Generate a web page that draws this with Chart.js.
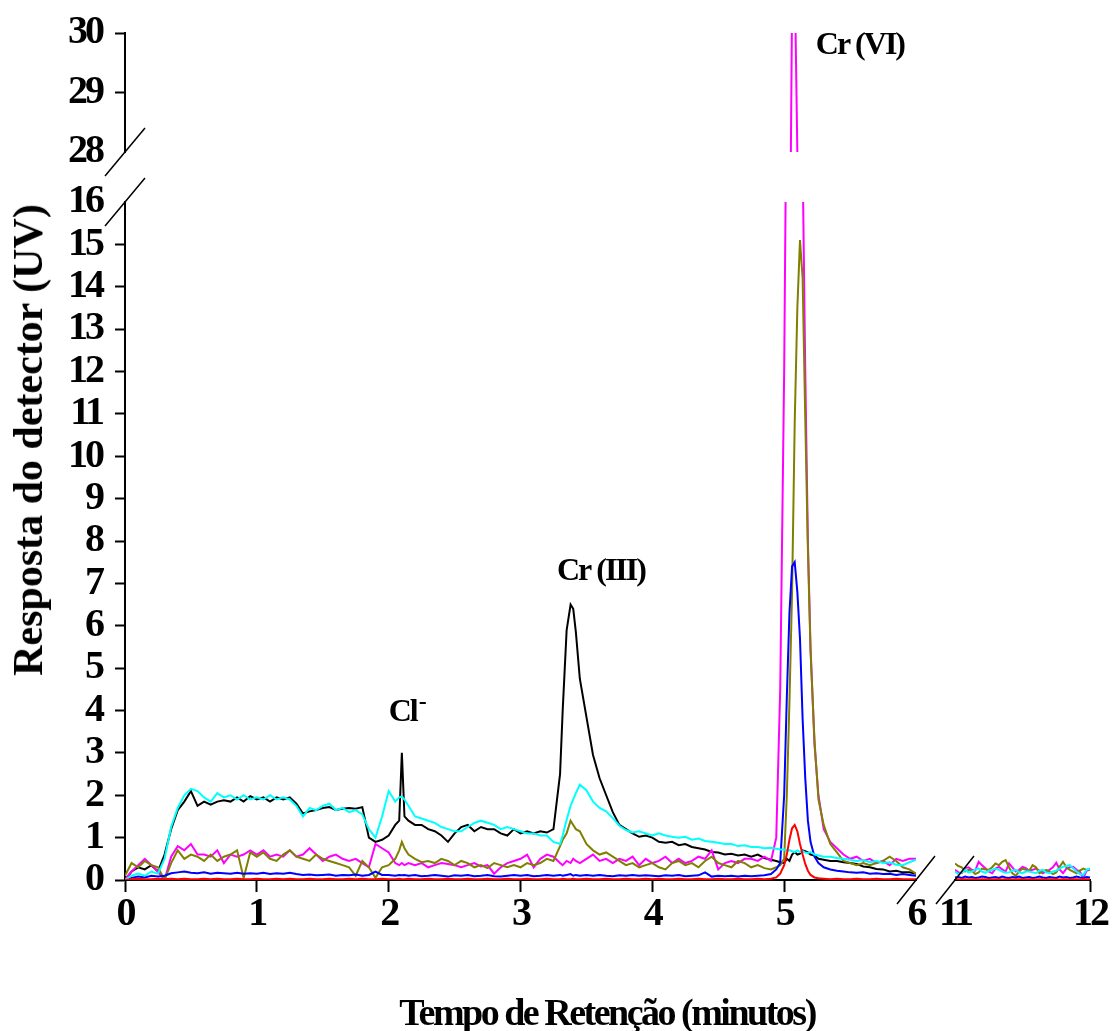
<!DOCTYPE html>
<html lang="pt">
<head>
<meta charset="utf-8">
<title>Cromatograma - Cr(III) e Cr(VI)</title>
<script src="https://cdn.jsdelivr.net/npm/chart.js@4.4.1/dist/chart.umd.min.js"></script>
<style>
  html, body { margin: 0; padding: 0; background: #fff; }
  #wrap { position: relative; width: 1114px; height: 1031px; overflow: hidden; }
  #wrap canvas { position: absolute; left: 0; top: 0; }
  .titulo { position: absolute; font-family: 'Liberation Serif', 'Times New Roman', serif; font-weight: bold; color: #000; white-space: nowrap; }
  #tituloX { left: 607px; top: 1012px; font-size: 38px; letter-spacing: -2.5px; transform: translate(-50%, -50%); }
  #tituloY { left: 28px; top: 440px; font-size: 42px; transform: translate(-50%, -50%) rotate(-90deg); }
</style>
</head>
<body>
<div id="wrap">
  <canvas id="grafBaixo" width="1114" height="1031"></canvas>
  <canvas id="grafCima" width="1114" height="1031"></canvas>
  <canvas id="grafDireita" width="1114" height="1031"></canvas>
  <div class="titulo" id="tituloX">Tempo de Retenção (minutos)</div>
  <div class="titulo" id="tituloY">Resposta do detector (UV)</div>
</div>
<script>
// ===================== DADOS (0 a 6 min) =====================

const tempoEsq = [
  0.00, 0.05, 0.10, 0.15, 0.20, 0.25, 0.30, 0.35, 0.40, 0.45, 0.50, 0.55, 0.60, 0.65, 0.70, 0.75, 0.80, 0.85, 0.90, 0.95,
  1.00, 1.05, 1.10, 1.15, 1.20, 1.25, 1.30, 1.35, 1.40, 1.45, 1.50, 1.55, 1.60, 1.65, 1.70, 1.75, 1.80, 1.85, 1.90, 1.95,
  2.00, 2.05, 2.08, 2.10, 2.12, 2.15, 2.20, 2.25, 2.30, 2.35, 2.40, 2.45, 2.50, 2.55, 2.60, 2.65, 2.70, 2.75, 2.80, 2.85, 2.90, 2.95,
  3.00, 3.05, 3.10, 3.15, 3.20, 3.25, 3.30, 3.32, 3.35, 3.38, 3.40, 3.42, 3.45, 3.50, 3.55, 3.60, 3.65, 3.70, 3.75, 3.80, 3.85, 3.90, 3.95,
  4.00, 4.05, 4.10, 4.15, 4.20, 4.25, 4.30, 4.35, 4.40, 4.45, 4.50, 4.55, 4.60, 4.65, 4.70, 4.75, 4.80, 4.85, 4.90, 4.94, 4.97,
  5.00, 5.02, 5.04, 5.06, 5.08, 5.10, 5.12, 5.14, 5.16, 5.18, 5.20, 5.23, 5.26, 5.30, 5.35, 5.40, 5.45, 5.50, 5.55, 5.60,
  5.65, 5.70, 5.75, 5.80, 5.85, 5.90, 5.95, 6.00
];

const preto = [
  0, 0.2, 0.3, 0.25, 0.35, 0.2, 0.6, 1.2, 1.65, 1.85, 2.1, 1.75, 1.85, 1.78, 1.85, 1.88, 1.85, 1.95, 1.85, 1.98,
  1.9, 1.95, 1.85, 1.95, 1.9, 1.95, 1.8, 1.57, 1.62, 1.65, 1.7, 1.72, 1.65, 1.68, 1.7, 1.68, 1.72, 1.0, 0.9, 0.95,
  1.05, 1.3, 1.4, 3.0, 1.5, 1.4, 1.3, 1.3, 1.2, 1.15, 1.05, 0.9, 1.1, 1.25, 1.3, 1.15, 1.25, 1.2, 1.2, 1.1, 1.05, 1.2,
  1.1, 1.15, 1.1, 1.15, 1.12, 1.2, 2.5, 4.0, 5.9, 6.5, 6.4, 5.85, 4.75, 3.85, 2.95, 2.4, 2.0, 1.6, 1.3, 1.2, 1.1, 1.02, 1.05,
  1.0, 0.9, 0.88, 0.9, 0.82, 0.85, 0.78, 0.75, 0.72, 0.66, 0.65, 0.6, 0.62, 0.58, 0.6, 0.55, 0.6, 0.52, 0.48, 0.45, 0.42,
  0.4, 0.5, 0.45, 0.6, 0.66, 0.6, 0.62, 0.7, 0.68, 0.65, 0.6, 0.58, 0.5, 0.48, 0.45, 0.45, 0.42, 0.4, 0.38, 0.32,
  0.3, 0.26, 0.25, 0.2, 0.22, 0.18, 0.18, 0.15
];

const ciano = [
  0, 0.1, 0.15, 0.1, 0.2, 0.15, 0.5, 1.25, 1.7, 2.0, 2.15, 2.1, 1.95, 1.85, 2.05, 1.95, 2.0, 1.9, 2.0, 1.9,
  1.95, 1.9, 2.0, 1.9, 1.95, 1.9, 1.75, 1.5, 1.7, 1.65, 1.75, 1.8, 1.65, 1.7, 1.6, 1.65, 1.55, 1.2, 1.0, 1.5,
  2.1, 1.85, 1.95, 1.97, 1.9, 1.75, 1.5, 1.45, 1.4, 1.35, 1.25, 1.2, 1.15, 1.15, 1.25, 1.35, 1.4, 1.35, 1.3, 1.2, 1.25, 1.2,
  1.15, 1.1, 1.1, 1.05, 1.05, 0.9, 0.85, 1.05, 1.42, 1.75, 1.9, 2.05, 2.25, 2.12, 1.85, 1.7, 1.62, 1.46, 1.28, 1.18, 1.12, 1.15, 1.1,
  1.05, 1.1, 1.05, 1.02, 1.0, 1.02, 0.95, 0.98, 0.92, 0.9, 0.88, 0.85, 0.85, 0.8, 0.82, 0.78, 0.78, 0.75, 0.76, 0.74, 0.72,
  0.72, 0.7, 0.7, 0.68, 0.66, 0.7, 0.66, 0.68, 0.65, 0.64, 0.66, 0.6, 0.58, 0.55, 0.55, 0.52, 0.5, 0.48, 0.45, 0.47,
  0.42, 0.45, 0.4, 0.42, 0.36, 0.35, 0.42, 0.48
];

const magenta = [
  0, 0.2, 0.35, 0.5, 0.35, 0.2, 0, 0.55, 0.8, 0.7, 0.85, 0.6, 0.6, 0.55, 0.7, 0.4, 0.6, 0.55, 0.6, 0.7,
  0.6, 0.7, 0.55, 0.6, 0.55, 0.7, 0.55, 0.6, 0.75, 0.6, 0.45, 0.55, 0.6, 0.5, 0.45, 0.5, 0.4, 0.3, 0.85, 0.75,
  0.65, 0.4, 0.35, 0.4, 0.35, 0.4, 0.35, 0.4, 0.3, 0.35, 0.4, 0.38, 0.35, 0.3, 0.35, 0.4, 0.32, 0.35, 0.15, 0.3, 0.4, 0.45,
  0.5, 0.6, 0.3, 0.5, 0.6, 0.55, 0.4, 0.35, 0.45, 0.4, 0.5, 0.45, 0.4, 0.5, 0.6, 0.45, 0.5, 0.4, 0.5, 0.45, 0.55, 0.35, 0.5,
  0.4, 0.45, 0.55, 0.4, 0.5, 0.4, 0.45, 0.55, 0.5, 0.7, 0.25, 0.4, 0.45, 0.4, 0.5, 0.5, 0.45, 0.55, 0.45, 1.0, 4.5,
  12, 19.5, 25, 30.5, 31, 28, 22, 17, 12, 8, 5.5, 3.2, 2.0, 1.2, 0.9, 0.75, 0.6, 0.5, 0.55, 0.45,
  0.5, 0.4, 0.45, 0.35, 0.5, 0.45, 0.5, 0.5
];

const oliva = [
  0.1, 0.4, 0.3, 0.45, 0.35, 0.3, 0, 0.4, 0.7, 0.5, 0.6, 0.55, 0.45, 0.6, 0.45, 0.55, 0.6, 0.7, 0.05, 0.65,
  0.55, 0.65, 0.5, 0.45, 0.6, 0.7, 0.55, 0.5, 0.45, 0.6, 0.5, 0.45, 0.4, 0.35, 0.3, 0.1, 0.45, 0.3, 0.05, 0.3,
  0.35, 0.5, 0.7, 0.9, 0.75, 0.6, 0.5, 0.42, 0.45, 0.4, 0.5, 0.45, 0.35, 0.45, 0.4, 0.3, 0.35, 0.28, 0.4, 0.35, 0.3, 0.35,
  0.3, 0.4, 0.35, 0.4, 0.5, 0.45, 0.8, 0.95, 1.1, 1.4, 1.3, 1.2, 1.15, 0.85, 0.7, 0.6, 0.65, 0.55, 0.45, 0.35, 0.4, 0.3, 0.35,
  0.4, 0.3, 0.25, 0.4, 0.45, 0.35, 0.4, 0.3, 0.45, 0.55, 0.4, 0.35, 0.3, 0.45, 0.4, 0.3, 0.35, 0.28, 0.25, 0.3, 0.35,
  0.5, 2.0, 4.2, 6.8, 10.8, 13.5, 15.1, 14.2, 10.9, 7.8, 5.4, 3.3, 1.9, 1.3, 0.85, 0.65, 0.45, 0.4, 0.35, 0.4,
  0.35, 0.4, 0.45, 0.55, 0.45, 0.3, 0.25, 0.15
];

const azul = [
  0, 0.05, 0.08, 0.06, 0.1, 0.08, 0.1, 0.16, 0.18, 0.2, 0.17, 0.16, 0.18, 0.15, 0.17, 0.16, 0.15, 0.17, 0.15, 0.16,
  0.15, 0.17, 0.14, 0.16, 0.15, 0.17, 0.14, 0.12, 0.13, 0.11, 0.12, 0.13, 0.1, 0.12, 0.11, 0.13, 0.1, 0.12, 0.2, 0.12,
  0.12, 0.1, 0.12, 0.11, 0.12, 0.1, 0.12, 0.09, 0.1, 0.12, 0.1, 0.08, 0.11, 0.1, 0.12, 0.09, 0.1, 0.12, 0.09, 0.08, 0.1, 0.12,
  0.1, 0.12, 0.09, 0.1, 0.12, 0.1, 0.12, 0.1, 0.12, 0.14, 0.1, 0.12, 0.1, 0.12, 0.1, 0.12, 0.1, 0.09, 0.11, 0.1, 0.12, 0.1, 0.11,
  0.1, 0.09, 0.11, 0.1, 0.12, 0.09, 0.1, 0.11, 0.18, 0.08, 0.1, 0.09, 0.1, 0.08, 0.1, 0.09, 0.1, 0.11, 0.14, 0.25, 0.4,
  2.0, 4.3, 6.3, 7.4, 7.5, 6.8, 5.7, 3.8, 2.4, 1.4, 0.9, 0.55, 0.4, 0.3, 0.25, 0.22, 0.2, 0.18, 0.17, 0.18,
  0.15, 0.16, 0.14, 0.15, 0.12, 0.14, 0.12, 0.1
];

const vermelho = [
  0, 0.02, 0.03, 0.02, 0.02, 0.03, 0.02, 0.03, 0.02, 0.03, 0.02, 0.02, 0.03, 0.02, 0.03, 0.02, 0.02, 0.03, 0.02, 0.02,
  0.03, 0.02, 0.02, 0.03, 0.02, 0.03, 0.02, 0.02, 0.03, 0.02, 0.02, 0.03, 0.02, 0.02, 0.03, 0.02, 0.03, 0.02, 0.02, 0.03,
  0.02, 0.02, 0.03, 0.02, 0.02, 0.03, 0.02, 0.02, 0.03, 0.02, 0.02, 0.03, 0.02, 0.02, 0.03, 0.02, 0.02, 0.03, 0.02, 0.02, 0.03, 0.02,
  0.02, 0.03, 0.02, 0.02, 0.03, 0.02, 0.02, 0.03, 0.02, 0.02, 0.03, 0.02, 0.02, 0.03, 0.02, 0.02, 0.03, 0.02, 0.02, 0.03, 0.02, 0.02, 0.03,
  0.02, 0.03, 0.02, 0.02, 0.03, 0.02, 0.02, 0.03, 0.02, 0.02, 0.03, 0.02, 0.02, 0.03, 0.02, 0.02, 0.03, 0.02, 0.03, 0.06, 0.15,
  0.35, 0.6, 0.95, 1.22, 1.3, 1.15, 0.85, 0.6, 0.38, 0.22, 0.12, 0.06, 0.04, 0.03, 0.02, 0.03, 0.02, 0.02, 0.03, 0.02,
  0.02, 0.03, 0.02, 0.02, 0.03, 0.02, 0.02, 0.02
];

// ===================== DADOS (11 a 12 min) =====================

const tempoDir = [
  11.000, 11.025, 11.050, 11.075, 11.100, 11.125, 11.150, 11.175, 11.200, 11.225,
  11.250, 11.275, 11.300, 11.325, 11.350, 11.375, 11.400, 11.425, 11.450, 11.475,
  11.500, 11.525, 11.550, 11.575, 11.600, 11.625, 11.650, 11.675, 11.700, 11.725,
  11.750, 11.775, 11.800, 11.825, 11.850, 11.875, 11.900, 11.925, 11.950, 11.975,
  12.000
];

const cianoDir = [
  0.2, 0.14, 0.18, 0.24, 0.18, 0.2, 0.25, 0.27, 0.2, 0.17,
  0.22, 0.24, 0.27, 0.24, 0.2, 0.17, 0.18, 0.22, 0.24, 0.18,
  0.16, 0.2, 0.2, 0.18, 0.16, 0.22, 0.24, 0.18, 0.16, 0.2,
  0.22, 0.27, 0.31, 0.33, 0.35, 0.28, 0.2, 0.14, 0.12, 0.24,
  0.27
];

const magentaDir = [
  0.24, 0.18, 0.16, 0.28, 0.3, 0.24, 0.22, 0.43, 0.35, 0.28,
  0.2, 0.16, 0.27, 0.31, 0.25, 0.2, 0.39, 0.3, 0.2, 0.24,
  0.31, 0.28, 0.22, 0.24, 0.27, 0.22, 0.16, 0.2, 0.24, 0.3,
  0.41, 0.25, 0.16, 0.27, 0.3, 0.31, 0.24, 0.2, 0.04, 0.22,
  0.24
];

const olivaDir = [
  0.39, 0.33, 0.3, 0.2, 0.24, 0.22, 0.14, 0.18, 0.27, 0.25,
  0.24, 0.3, 0.39, 0.35, 0.43, 0.47, 0.3, 0.16, 0.1, 0.2,
  0.27, 0.24, 0.22, 0.35, 0.3, 0.16, 0.2, 0.24, 0.2, 0.14,
  0.18, 0.31, 0.43, 0.3, 0.24, 0.2, 0.16, 0.22, 0.27, 0.24,
  0.24
];

const azulDir = [
  0.06, 0.07, 0.05, 0.08, 0.06, 0.07, 0.05, 0.06, 0.08, 0.07,
  0.05, 0.06, 0.07, 0.05, 0.08, 0.06, 0.05, 0.07, 0.06, 0.08,
  0.05, 0.06, 0.07, 0.05, 0.06, 0.08, 0.06, 0.05, 0.07, 0.06,
  0.05, 0.08, 0.06, 0.07, 0.05, 0.06, 0.08, 0.06, 0.05, 0.07,
  0.06
];

const vermelhoDir = [
  0.02, 0.01, 0.02, 0.02, 0.01, 0.02, 0.02, 0.01, 0.02, 0.02,
  0.02, 0.01, 0.02, 0.02, 0.01, 0.02, 0.02, 0.01, 0.02, 0.02,
  0.02, 0.01, 0.02, 0.02, 0.01, 0.02, 0.02, 0.01, 0.02, 0.02,
  0.02, 0.01, 0.02, 0.02, 0.01, 0.02, 0.02, 0.01, 0.02, 0.02,
  0.02
];

// ===================== TICKS =====================

const ticksY = [0, 1, 2, 3, 4, 5, 6, 7, 8, 9, 10, 11, 12, 13, 14, 15, 16];
const ticksYTopo = [28, 29, 30];
const ticksX = [0, 1, 2, 3, 4, 5, 6];
const ticksXDir = [11, 12];

// ===================== ESTILO =====================

const FAMILIA = "'Liberation Serif', 'Times New Roman', serif";
const fonteTick = { family: FAMILIA, size: 40, weight: 'bold', lineHeight: 1 };

function serie(tempo, valores, cor) {
  return {
    data: tempo.map((t, i) => ({ x: t, y: valores[i] })),
    borderColor: cor,
    borderWidth: 2,
    pointRadius: 0,
    tension: 0,
    fill: false
  };
}

function corTick(ocultos) {
  return (c) => (c.tick && ocultos.includes(c.tick.value)) ? 'rgba(0,0,0,0)' : '#000';
}

function eixo(min, max, lista, pad, extra) {
  return Object.assign({
    type: 'linear',
    min: min,
    max: max,
    afterBuildTicks: (s) => { s.ticks = lista.map((v) => ({ value: v })); },
    border: { color: '#000', width: 2 },
    ticks: { color: '#000', font: fonteTick, autoSkip: false, maxRotation: 0, padding: pad }
  }, extra);
}

// espaçamento apertado (o original é condensado)
const espacamento = {
  id: 'espacamento',
  beforeLayout(chart) { chart.ctx.letterSpacing = '-3px'; },
  beforeDraw(chart) { chart.ctx.letterSpacing = '-3px'; }
};

// marcas de quebra nos eixos
const quebras = {
  id: 'quebras',
  afterDraw(chart, args, opts) {
    const { ctx, chartArea, scales } = chart;
    ctx.save();
    ctx.strokeStyle = '#000';
    ctx.lineWidth = 1.5;
    ctx.beginPath();
    if (opts.valorY !== undefined) {
      const cx = chartArea.left;
      const cy = scales.y.getPixelForValue(opts.valorY);
      ctx.moveTo(cx - 20, cy + 24);
      ctx.lineTo(cx + 20, cy - 24);
    }
    if (opts.valorX !== undefined) {
      const cx = scales.x.getPixelForValue(opts.valorX);
      const cy = chartArea.bottom;
      ctx.moveTo(cx - 19, cy + 24);
      ctx.lineTo(cx + 19, cy - 24);
    }
    ctx.stroke();
    ctx.restore();
  }
};

// rótulos dos picos
const rotulos = {
  id: 'rotulos',
  afterDatasetsDraw(chart, args, opts) {
    const { ctx, scales } = chart;
    ctx.save();
    ctx.fillStyle = '#000';
    ctx.letterSpacing = '-2px';
    ctx.textBaseline = 'middle';
    (opts.itens || []).forEach((r) => {
      const px = scales.x.getPixelForValue(r.x);
      const py = scales.y.getPixelForValue(r.y);
      ctx.font = 'bold 32px ' + FAMILIA;
      ctx.textAlign = r.alinhar || 'center';
      ctx.fillText(r.texto, px, py);
      if (r.sup) {
        const w = ctx.measureText(r.texto).width;
        ctx.font = 'bold 24px ' + FAMILIA;
        ctx.textAlign = 'left';
        ctx.fillText(r.sup, px + w + 2, py - 10);
      }
    });
    ctx.restore();
  }
};

const basico = {
  responsive: false,
  animation: false,
  devicePixelRatio: 1,
  events: []
};

// ===================== PAINEL INFERIOR (0-6 min, 0-16) =====================

new Chart(document.getElementById('grafBaixo'), {
  type: 'line',
  data: {
    datasets: [
      serie(tempoEsq, vermelho, '#ff0000'),
      serie(tempoEsq, ciano, '#00ffff'),
      serie(tempoEsq, azul, '#0000ff'),
      serie(tempoEsq, oliva, '#808000'),
      serie(tempoEsq, magenta, '#ff00ff'),
      serie(tempoEsq, preto, '#000000')
    ]
  },
  options: Object.assign({}, basico, {
    layout: { autoPadding: false, padding: { left: 0, top: 202, right: 198, bottom: 0 } },
    plugins: {
      legend: { display: false },
      tooltip: { enabled: false },
      quebras: { valorY: 16, valorX: 6 },
      rotulos: {
        itens: [
          { texto: 'Cl', sup: '-', x: 2.0, y: 3.95, alinhar: 'left' },
          { texto: 'Cr (III)', x: 3.61, y: 7.27 }
        ]
      }
    },
    scales: {
      x: eixo(0, 6, ticksX, 3, {
        afterFit: (s) => { s.height = 151; },
        grid: { drawOnChartArea: false, tickLength: 12, tickWidth: 2, tickColor: corTick([6]) }
      }),
      y: eixo(0, 16, ticksY, 13, {
        afterFit: (s) => { s.width = 125; },
        grid: { drawOnChartArea: false, tickLength: 10, tickWidth: 2, tickColor: corTick([16]) }
      })
    }
  }),
  plugins: [espacamento, quebras, rotulos]
});

// ===================== PAINEL SUPERIOR (0-6 min, 28-30) =====================

new Chart(document.getElementById('grafCima'), {
  type: 'line',
  data: {
    datasets: [
      serie(tempoEsq, oliva, '#808000'),
      serie(tempoEsq, magenta, '#ff00ff')
    ]
  },
  options: Object.assign({}, basico, {
    layout: { autoPadding: false, padding: { left: 0, top: 30, right: 198, bottom: 879 } },
    plugins: {
      legend: { display: false },
      tooltip: { enabled: false },
      quebras: { valorY: 28 },
      rotulos: { itens: [{ texto: 'Cr (VI)', x: 5.24, y: 29.79, alinhar: 'left' }] }
    },
    scales: {
      x: { type: 'linear', min: 0, max: 6, display: false },
      y: eixo(28, 30, ticksYTopo, 13, {
        afterFit: (s) => { s.width = 125; },
        grid: { drawOnChartArea: false, tickLength: 10, tickWidth: 2, tickColor: corTick([28]) }
      })
    }
  }),
  plugins: [espacamento, quebras, rotulos]
});

// ===================== PAINEL DIREITO (11-12 min) =====================

new Chart(document.getElementById('grafDireita'), {
  type: 'line',
  data: {
    datasets: [
      serie(tempoDir, vermelhoDir, '#ff0000'),
      serie(tempoDir, cianoDir, '#00ffff'),
      serie(tempoDir, azulDir, '#0000ff'),
      serie(tempoDir, olivaDir, '#808000'),
      serie(tempoDir, magentaDir, '#ff00ff')
    ]
  },
  options: Object.assign({}, basico, {
    layout: { autoPadding: false, padding: { left: 955, top: 202, right: 24, bottom: 0 } },
    plugins: {
      legend: { display: false },
      tooltip: { enabled: false },
      quebras: { valorX: 11 }
    },
    scales: {
      x: eixo(11, 12, ticksXDir, 3, {
        afterFit: (s) => { s.height = 151; },
        grid: { drawOnChartArea: false, tickLength: 12, tickWidth: 2, tickColor: corTick([11]) }
      }),
      y: { type: 'linear', min: 0, max: 16, display: false }
    }
  }),
  plugins: [espacamento, quebras]
});
</script>
</body>
</html>
